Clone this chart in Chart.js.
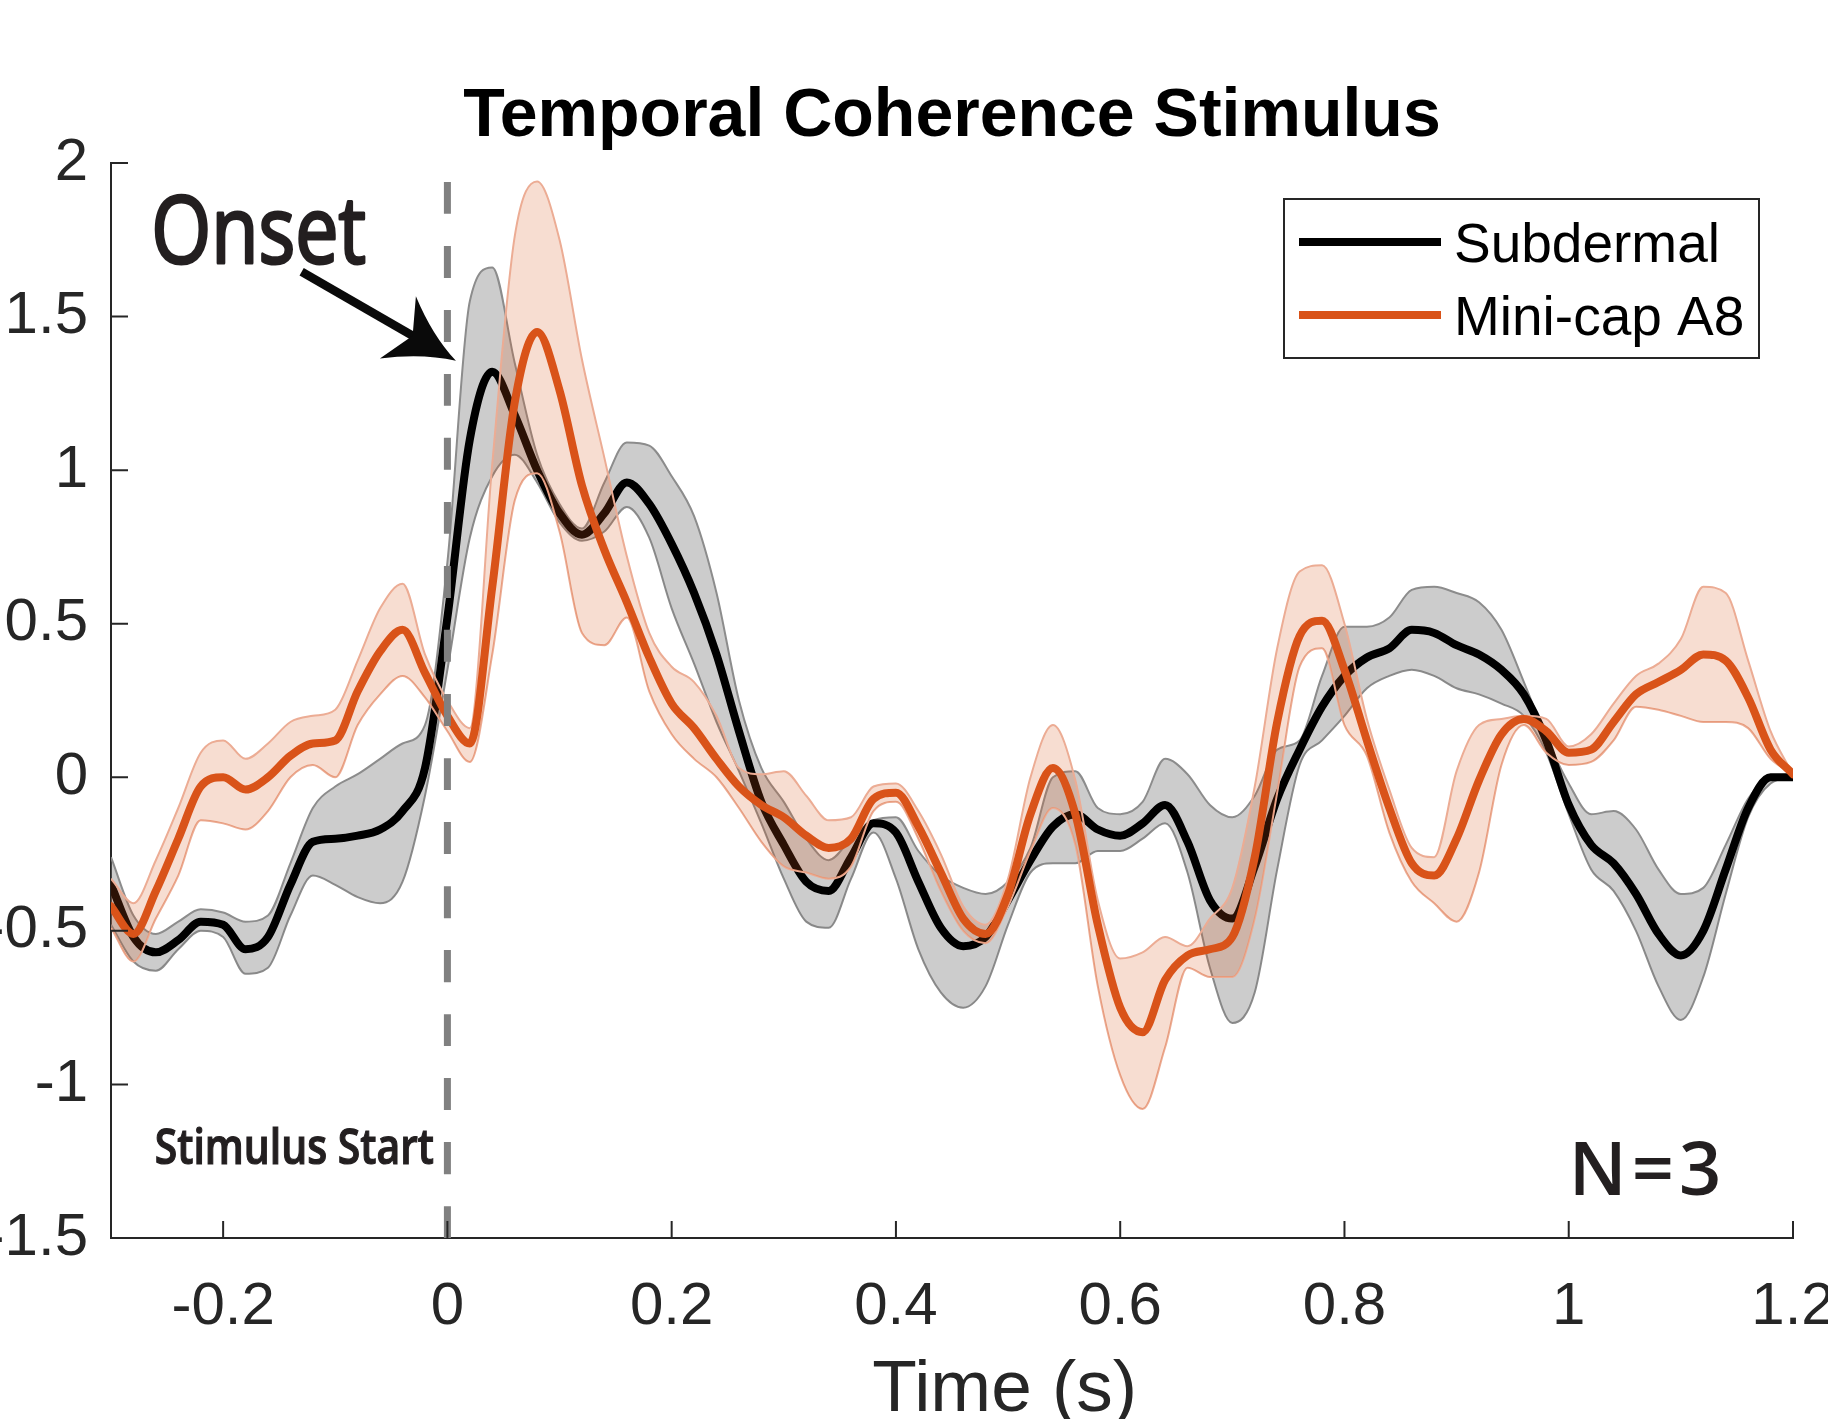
<!DOCTYPE html>
<html>
<head>
<meta charset="utf-8">
<title>Temporal Coherence Stimulus</title>
<script src="https://cdn.jsdelivr.net/npm/chart.js@4.4.1/dist/chart.umd.min.js"></script>
<style>
    html, body { margin: 0; padding: 0; background: #fff; overflow: hidden; }
    body { width: 1828px; height: 1419px; position: relative; }
    /* canvas is a bit bigger than the page so the outer tick labels get cropped like the figure */
    #wrap { position: absolute; left: -60px; top: 0; width: 1928px; height: 1460px; }
</style>
</head>
<body>
<div id="wrap"><canvas id="erpChart"></canvas></div>
<script>
// Time axis (s)
const timeS = [
    -0.30, -0.28, -0.26, -0.24, -0.22, -0.20, -0.18, -0.16, -0.14, -0.12, -0.10, -0.08, -0.06, -0.04, -0.02,
    0.00, 0.02, 0.04, 0.06, 0.08, 0.10, 0.12, 0.14, 0.16, 0.18,
    0.20, 0.22, 0.24, 0.26, 0.28, 0.30, 0.32, 0.34, 0.36, 0.38,
    0.40, 0.42, 0.44, 0.46, 0.48, 0.50, 0.52, 0.54, 0.56, 0.58,
    0.60, 0.62, 0.64, 0.66, 0.68, 0.70, 0.72, 0.74, 0.76, 0.78,
    0.80, 0.82, 0.84, 0.86, 0.88, 0.90, 0.92, 0.94, 0.96, 0.98,
    1.00, 1.02, 1.04, 1.06, 1.08, 1.10, 1.12, 1.14, 1.16, 1.18,
    1.20
];

// Subdermal: mean and shaded band edges
const subdermalMean = [
    -0.35, -0.52, -0.57, -0.53, -0.47, -0.48, -0.56, -0.52, -0.35, -0.21, -0.20, -0.19, -0.17, -0.11, 0.03,
    0.52, 1.10, 1.32, 1.18, 1.00, 0.86, 0.79, 0.86, 0.96, 0.89,
    0.76, 0.60, 0.40, 0.15, -0.08, -0.22, -0.34, -0.37, -0.26, -0.15,
    -0.18, -0.34, -0.49, -0.55, -0.52, -0.40, -0.27, -0.16, -0.12, -0.17,
    -0.19, -0.15, -0.09, -0.21, -0.40, -0.46, -0.29, -0.07, 0.09, 0.23,
    0.33, 0.39, 0.42, 0.48, 0.47, 0.43, 0.40, 0.35, 0.27, 0.12,
    -0.09, -0.22, -0.28, -0.38, -0.51, -0.58, -0.50, -0.30, -0.10, 0.00,
    0.00
];
const subdermalUpper = [
    -0.26, -0.45, -0.51, -0.47, -0.43, -0.44, -0.47, -0.45, -0.28, -0.10, -0.03, 0.01, 0.06, 0.11, 0.17,
    0.70, 1.55, 1.66, 1.35, 1.05, 0.89, 0.81, 0.96, 1.09, 1.08,
    0.98, 0.85, 0.60, 0.25, 0.03, -0.08, -0.20, -0.27, -0.20, -0.14,
    -0.13, -0.24, -0.32, -0.36, -0.38, -0.34, -0.23, 0.00, 0.02, -0.10,
    -0.12, -0.08, 0.06, 0.01, -0.09, -0.13, -0.06, 0.09, 0.12, 0.33,
    0.49, 0.49, 0.52, 0.61, 0.62, 0.60, 0.57, 0.48, 0.31, 0.13,
    -0.02, -0.12, -0.11, -0.17, -0.30, -0.38, -0.36, -0.22, -0.07, 0.00,
    0.00
];
const subdermalLower = [
    -0.48, -0.60, -0.63, -0.56, -0.50, -0.52, -0.64, -0.62, -0.45, -0.32, -0.35, -0.39, -0.41, -0.34, -0.06,
    0.35, 0.78, 0.98, 1.05, 0.96, 0.83, 0.77, 0.80, 0.88, 0.78,
    0.55, 0.37, 0.18, 0.02, -0.15, -0.33, -0.47, -0.49, -0.33, -0.18,
    -0.33, -0.56, -0.70, -0.75, -0.68, -0.48, -0.31, -0.28, -0.28, -0.24,
    -0.24, -0.20, -0.15, -0.31, -0.62, -0.80, -0.70, -0.30, 0.04, 0.12,
    0.20, 0.29, 0.33, 0.35, 0.33, 0.29, 0.27, 0.24, 0.20, 0.08,
    -0.12, -0.30, -0.37, -0.50, -0.68, -0.79, -0.65, -0.38, -0.13, -0.02,
    0.00
];

// Mini-cap A8: mean and shaded band edges
const minicapMean = [
    -0.42, -0.51, -0.37, -0.20, -0.03, 0.00, -0.04, 0.00, 0.07, 0.11, 0.12, 0.28, 0.41, 0.48, 0.34,
    0.20, 0.11, 0.62, 1.22, 1.45, 1.26, 0.95, 0.74, 0.57, 0.39,
    0.24, 0.16, 0.06, -0.03, -0.09, -0.13, -0.19, -0.23, -0.20, -0.07,
    -0.05, -0.16, -0.31, -0.46, -0.51, -0.38, -0.12, 0.03, -0.12, -0.48,
    -0.75, -0.83, -0.66, -0.58, -0.56, -0.52, -0.26, 0.18, 0.46, 0.51,
    0.35, 0.12, -0.10, -0.28, -0.32, -0.20, -0.01, 0.14, 0.19, 0.15,
    0.08, 0.09, 0.18, 0.27, 0.31, 0.35, 0.40, 0.38, 0.26, 0.09,
    0.01
];
const minicapUpper = [
    -0.33, -0.41, -0.27, -0.10, 0.08, 0.12, 0.06, 0.11, 0.18, 0.20, 0.22, 0.38, 0.55, 0.63, 0.40,
    0.25, 0.16, 1.02, 1.76, 1.94, 1.75, 1.36, 1.04, 0.72, 0.47,
    0.36, 0.31, 0.20, 0.03, 0.01, 0.02, -0.06, -0.14, -0.13, -0.03,
    -0.02, -0.11, -0.25, -0.42, -0.48, -0.33, 0.00, 0.17, -0.01, -0.40,
    -0.59, -0.57, -0.52, -0.55, -0.46, -0.36, -0.03, 0.42, 0.67, 0.69,
    0.50, 0.19, -0.04, -0.23, -0.26, 0.02, 0.17, 0.19, 0.20, 0.19,
    0.10, 0.14, 0.24, 0.33, 0.37, 0.45, 0.62, 0.60, 0.38, 0.15,
    0.01
];
const minicapLower = [
    -0.49, -0.60, -0.46, -0.32, -0.14, -0.15, -0.17, -0.11, 0.00, 0.04, 0.00, 0.17, 0.27, 0.33, 0.26,
    0.15, 0.05, 0.40, 0.90, 0.99, 0.80, 0.47, 0.43, 0.52, 0.28,
    0.14, 0.06, 0.00, -0.10, -0.21, -0.29, -0.31, -0.33, -0.29, -0.11,
    -0.08, -0.20, -0.37, -0.50, -0.54, -0.42, -0.24, -0.10, -0.22, -0.68,
    -0.97, -1.08, -0.88, -0.62, -0.65, -0.65, -0.46, -0.05, 0.36, 0.42,
    0.17, 0.07, -0.18, -0.34, -0.41, -0.47, -0.31, 0.04, 0.17, 0.08,
    0.04, 0.05, 0.12, 0.23, 0.22, 0.20, 0.18, 0.18, 0.16, 0.06,
    0.01
];

const xTicks = [-0.2, 0, 0.2, 0.4, 0.6, 0.8, 1, 1.2];
const yTicks = [-1.5, -1, -0.5, 0, 0.5, 1, 1.5, 2];
const stimulusOnset = 0;

// annotation anchors, in data units
const onsetText = [-0.264, 1.676];
const arrowTail = [-0.130, 1.646];
const arrowTip = [0.0076, 1.356];
const startText = [-0.261, -1.259];
const countText = [1.0, -1.36];

const AXIS = '#262626';
const ORANGE = 'rgb(217,83,25)';
const FONT = '"Liberation Sans", Arial, Helvetica, sans-serif';
const MYRIAD = '"Open Sans", "Noto Sans", sans-serif';

function pts(values) {
    return timeS.map((t, i) => ({ x: t, y: values[i] }));
}

// Draw tick marks inside, title, legend box and the text notes
const overlayPlugin = {
    id: 'overlay',
    afterDraw(chart) {
        const { ctx, chartArea: area, scales: { x, y } } = chart;
        const px = v => x.getPixelForValue(v);
        const py = v => y.getPixelForValue(v);
        ctx.save();

        // inward ticks
        ctx.strokeStyle = AXIS;
        ctx.lineWidth = 2;
        ctx.lineCap = 'butt';
        ctx.beginPath();
        yTicks.forEach(v => {
            ctx.moveTo(area.left, py(v));
            ctx.lineTo(area.left + 17, py(v));
        });
        xTicks.forEach(v => {
            ctx.moveTo(px(v), area.bottom);
            ctx.lineTo(px(v), area.bottom - 17);
        });
        ctx.stroke();

        // title
        ctx.fillStyle = '#000';
        ctx.font = 'bold 68px ' + FONT;
        ctx.textAlign = 'center';
        ctx.textBaseline = 'alphabetic';
        ctx.fillText('Temporal Coherence Stimulus', (area.left + area.right) / 2, area.top - 27);

        // x axis label
        ctx.fillStyle = AXIS;
        ctx.font = '73px ' + FONT;
        ctx.fillText('Time (s)', px(0.497), area.bottom + 173);

        // legend
        const items = [chart.data.datasets[4], chart.data.datasets[1]];
        const boxW = 475, boxH = 159;
        const bx = area.right - 34 - boxW, by = area.top + 36;
        ctx.fillStyle = '#fff';
        ctx.fillRect(bx, by, boxW, boxH);
        ctx.strokeStyle = AXIS;
        ctx.lineWidth = 2;
        ctx.strokeRect(bx, by, boxW, boxH);
        ctx.textAlign = 'left';
        ctx.font = '55px ' + FONT;
        items.forEach((ds, i) => {
            const ly = by + 43 + i * 73;
            ctx.strokeStyle = ds.borderColor;
            ctx.lineWidth = 8;
            ctx.beginPath();
            ctx.moveTo(bx + 15, ly);
            ctx.lineTo(bx + 157, ly);
            ctx.stroke();
            ctx.fillStyle = '#000';
            ctx.fillText(ds.label, bx + 170, ly + 20);
        });

        // "Onset" note
        const ink = '#231f20';
        ctx.save();
        ctx.translate(px(onsetText[0]), py(onsetText[1]));
        ctx.scale(0.82, 1);
        ctx.font = '400 94px ' + MYRIAD;
        ctx.fillStyle = ink;
        ctx.strokeStyle = ink;
        ctx.lineWidth = 3;
        ctx.lineJoin = 'round';
        ctx.fillText('Onset', 0, 0);
        ctx.strokeText('Onset', 0, 0);
        ctx.restore();

        // arrow
        const S = { x: px(arrowTail[0]), y: py(arrowTail[1]) };
        const T = { x: px(arrowTip[0]), y: py(arrowTip[1]) };
        const len = Math.hypot(T.x - S.x, T.y - S.y);
        const ux = (T.x - S.x) / len, uy = (T.y - S.y) / len;
        const nx = -uy, ny = ux;
        const at = (a, b) => ({ x: T.x - ux * a + nx * b, y: T.y - uy * a + ny * b });
        ctx.strokeStyle = '#0a0a0a';
        ctx.fillStyle = '#0a0a0a';
        ctx.lineWidth = 8.5;
        ctx.beginPath();
        ctx.moveTo(S.x, S.y);
        const shaftEnd = at(45, 0);
        ctx.lineTo(shaftEnd.x, shaftEnd.y);
        ctx.stroke();
        const c1 = at(67, -36), c2 = at(67, 36), notch = at(50, 0);
        const k1 = at(33, -10), k2 = at(33, 10);
        ctx.beginPath();
        ctx.moveTo(T.x, T.y);
        ctx.quadraticCurveTo(k1.x, k1.y, c1.x, c1.y);
        ctx.lineTo(notch.x, notch.y);
        ctx.lineTo(c2.x, c2.y);
        ctx.quadraticCurveTo(k2.x, k2.y, T.x, T.y);
        ctx.fill();

        // "Stimulus Start" and "N=3"
        ctx.save();
        ctx.translate(px(startText[0]), py(startText[1]));
        ctx.scale(0.835, 1);
        ctx.font = '600 49px ' + MYRIAD;
        ctx.fillStyle = ink;
        ctx.strokeStyle = ink;
        ctx.lineWidth = 1.2;
        ctx.fillText('Stimulus Start', 0, 0);
        ctx.strokeText('Stimulus Start', 0, 0);
        ctx.restore();

        ctx.font = '600 74px ' + MYRIAD;
        ctx.fillStyle = ink;
        ctx.letterSpacing = '5px';
        ctx.fillText('N=3', px(countText[0]), py(countText[1]));
        ctx.letterSpacing = '0px';

        ctx.restore();
    }
};

function makeChart() {
    const ctx = document.getElementById('erpChart').getContext('2d');
    new Chart(ctx, {
        type: 'line',
        data: {
            datasets: [
                {
                    label: 'Stimulus onset',
                    data: [{ x: stimulusOnset, y: yTicks[0] }, { x: stimulusOnset, y: yTicks[yTicks.length - 1] }],
                    borderColor: 'rgb(128,128,128)',
                    borderWidth: 7,
                    borderDash: [32, 32],
                    borderCapStyle: 'butt',
                    pointRadius: 0,
                    fill: false
                },
                {
                    label: 'Mini-cap A8',
                    data: pts(minicapMean),
                    borderColor: ORANGE,
                    borderWidth: 8,
                    borderJoinStyle: 'round',
                    borderCapStyle: 'round',
                    pointRadius: 0,
                    fill: false
                },
                {
                    label: 'Mini-cap upper',
                    data: pts(minicapUpper),
                    borderColor: 'rgb(236,172,148)',
                    borderWidth: 2,
                    backgroundColor: 'rgba(217,83,25,0.2)',
                    pointRadius: 0,
                    fill: '+1'
                },
                {
                    label: 'Mini-cap lower',
                    data: pts(minicapLower),
                    borderColor: 'rgb(236,172,148)',
                    borderWidth: 2,
                    pointRadius: 0,
                    fill: false
                },
                {
                    label: 'Subdermal',
                    data: pts(subdermalMean),
                    borderColor: 'rgb(0,0,0)',
                    borderWidth: 8,
                    borderJoinStyle: 'round',
                    borderCapStyle: 'round',
                    pointRadius: 0,
                    fill: false
                },
                {
                    label: 'Subdermal upper',
                    data: pts(subdermalUpper),
                    borderColor: 'rgb(140,140,140)',
                    borderWidth: 2,
                    backgroundColor: 'rgba(128,128,128,0.4)',
                    pointRadius: 0,
                    fill: '+1'
                },
                {
                    label: 'Subdermal lower',
                    data: pts(subdermalLower),
                    borderColor: 'rgb(140,140,140)',
                    borderWidth: 2,
                    pointRadius: 0,
                    fill: false
                }
            ]
        },
        options: {
            responsive: true,
            maintainAspectRatio: false,
            animation: false,
            events: [],
            cubicInterpolationMode: 'monotone',
            layout: { padding: { top: 163, left: 0, right: 75, bottom: 0 } },
            scales: {
                x: {
                    type: 'linear',
                    min: -0.3,
                    max: 1.2,
                    afterBuildTicks: scale => { scale.ticks = xTicks.map(v => ({ value: v })); },
                    afterFit: scale => { scale.height = 222; },
                    grid: { display: false, drawTicks: false },
                    border: { display: true, color: AXIS, width: 2 },
                    ticks: {
                        padding: 33,
                        maxRotation: 0,
                        autoSkip: false,
                        color: AXIS,
                        font: { family: FONT, size: 60 },
                        callback: v => String(v)
                    }
                },
                y: {
                    min: -1.5,
                    max: 2,
                    afterBuildTicks: scale => { scale.ticks = yTicks.map(v => ({ value: v })); },
                    afterFit: scale => { scale.width = 171; },
                    grid: { display: false, drawTicks: false },
                    border: { display: true, color: AXIS, width: 2 },
                    ticks: {
                        padding: 23,
                        color: AXIS,
                        font: { family: FONT, size: 60 },
                        callback: v => String(v)
                    }
                }
            },
            plugins: {
                legend: { display: false },
                tooltip: { enabled: false },
                title: { display: false }
            }
        },
        plugins: [overlayPlugin]
    });
}

Promise.all([
    document.fonts.load('60px "Liberation Sans"'),
    document.fonts.load('bold 68px "Liberation Sans"'),
    document.fonts.load('400 94px "Open Sans"'),
    document.fonts.load('600 49px "Open Sans"')
]).then(makeChart, makeChart);
</script>
</body>
</html>
